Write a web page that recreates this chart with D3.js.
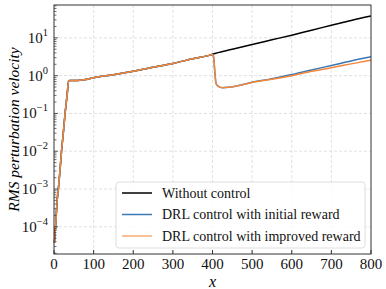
<!DOCTYPE html>
<html>
<head>
<meta charset="utf-8">
<script src="https://cdn.jsdelivr.net/npm/d3@7"></script>
<style>
  text, tspan { font-family: "Liberation Serif" !important; }
</style>
</head>
<body style="margin:0">
<script>
// shared growth before control starts (x <= 400)
const xEarly = [1, 4, 8, 11, 15, 19, 24, 28, 33, 37, 40, 60, 80, 100, 150, 200, 250, 300, 350, 395, 400];
const vEarly = [3.8e-5, 1e-4, 5e-4, 1e-3, 3e-3, 1e-2, 3.5e-2, 0.1, 0.3, 0.72, 0.74, 0.75, 0.79, 0.88, 1.06, 1.31, 1.66, 2.1, 2.8, 3.55, 3.7];

// without control after x = 400
const xNoCtrl = [450, 500, 550, 600, 650, 700, 750, 800];
const vNoCtrl = [5.0, 6.7, 8.9, 11.8, 16, 21.5, 29, 38];

// DRL controlled after x = 400
const xCtrl = [403, 406, 409, 415, 425, 440, 460, 500, 550, 600, 650, 700, 750, 800];
const vInitial = [3.0, 1.2, 0.62, 0.52, 0.48, 0.49, 0.53, 0.67, 0.83, 1.07, 1.42, 1.86, 2.45, 3.15];
const vImproved = [3.0, 1.2, 0.62, 0.52, 0.48, 0.49, 0.53, 0.66, 0.8, 1.0, 1.3, 1.62, 2.05, 2.57];

const xTicks = [0, 100, 200, 300, 400, 500, 600, 700, 800];
const yExps = [-4, -3, -2, -1, 0, 1];
const legendLabels = ["Without control", "DRL control with initial reward", "DRL control with improved reward"];
const colors = ["#000000", "#3b78b3", "#f4863a"];

const W = 386, H = 289;
const m = { left: 54, right: 15, top: 5, bottom: 35 };

const svg = d3.select("body").append("svg")
    .attr("width", W)
    .attr("height", H)
    .attr("font-family", "Liberation Serif");

const x = d3.scaleLinear().domain([0, 800]).range([m.left, W - m.right]);
const y = d3.scaleLog().domain([Math.pow(10, -4.72), Math.pow(10, 1.87)]).range([H - m.bottom, m.top]);

const pts = (xs, vs) => xs.map((d, i) => [d, vs[i]]);
const early = pts(xEarly, vEarly);
const series = [
    early.concat(pts(xNoCtrl, vNoCtrl)),
    early.concat(pts(xCtrl, vInitial)),
    early.concat(pts(xCtrl, vImproved))
];

// grid
const grid = svg.append("g");
grid.selectAll(".gx").data(xTicks.slice(1, -1)).enter().append("line")
    .attr("x1", d => x(d)).attr("x2", d => x(d))
    .attr("y1", m.top).attr("y2", H - m.bottom)
    .attr("stroke", "#d9d9d9").attr("stroke-width", 0.8).attr("stroke-dasharray", "3,2");
grid.selectAll(".gy").data(yExps).enter().append("line")
    .attr("x1", m.left).attr("x2", W - m.right)
    .attr("y1", d => y(Math.pow(10, d))).attr("y2", d => y(Math.pow(10, d)))
    .attr("stroke", "#d9d9d9").attr("stroke-width", 0.8).attr("stroke-dasharray", "3,2");

// lines
const line = d3.line().x(d => x(d[0])).y(d => y(d[1])).curve(d3.curveMonotoneX);
svg.append("g").selectAll("path")
    .data(series)
    .enter().append("path")
    .attr("d", line)
    .attr("fill", "none")
    .attr("stroke", (d, i) => colors[i])
    .attr("stroke-width", 1.5);

// x ticks and labels, ticks pointing inside
svg.append("g").selectAll("line").data(xTicks).enter().append("line")
    .attr("x1", d => x(d)).attr("x2", d => x(d))
    .attr("y1", H - m.bottom).attr("y2", H - m.bottom - 4)
    .attr("stroke", "#333");
svg.selectAll(".xlab").data(xTicks).enter().append("text")
    .attr("class", "xlab")
    .attr("x", d => x(d)).attr("y", H - m.bottom + 15)
    .attr("text-anchor", "middle")
    .attr("font-size", 15)
    .attr("font-family", "Liberation Serif")
    .attr("fill", "#111")
    .text(d => d);

const minor = [];
for (let e = -5; e <= 1; e++) {
    for (let k = 2; k <= 9; k++) {
        const v = k * Math.pow(10, e);
        if (v > y.domain()[0] && v < y.domain()[1]) minor.push(v);
    }
}
const gy = svg.append("g");
gy.selectAll(".minor").data(minor).enter().append("line")
    .attr("x1", m.left).attr("x2", m.left + 2.5)
    .attr("y1", d => y(d)).attr("y2", d => y(d))
    .attr("stroke", "#333").attr("stroke-width", 0.7);
gy.selectAll(".major").data(yExps).enter().append("line")
    .attr("x1", m.left).attr("x2", m.left + 4)
    .attr("y1", d => y(Math.pow(10, d))).attr("y2", d => y(Math.pow(10, d)))
    .attr("stroke", "#333").attr("stroke-width", 0.8);
const yl = svg.selectAll(".ylab").data(yExps).enter().append("text")
    .attr("class", "ylab")
    .attr("x", m.left - 6)
    .attr("y", d => y(Math.pow(10, d)) + 5)
    .attr("text-anchor", "end")
    .attr("font-size", 15)
    .attr("font-family", "Liberation Serif")
    .attr("fill", "#111");
yl.append("tspan").text("10");
yl.append("tspan").attr("dy", -7).attr("font-size", 10.5)
    .text(d => d < 0 ? "\u2212" + Math.abs(d) : String(d));

// frame
svg.append("rect")
    .attr("x", m.left).attr("y", m.top)
    .attr("width", W - m.left - m.right).attr("height", H - m.top - m.bottom)
    .attr("fill", "none").attr("stroke", "#333").attr("stroke-width", 1);

// axis titles
svg.append("text")
    .attr("x", x(400)).attr("y", H - 2)
    .attr("text-anchor", "middle")
    .attr("font-size", 16).attr("font-style", "italic")
    .attr("font-family", "Liberation Serif")
    .text("x");
svg.append("text")
    .attr("transform", `translate(19,${(m.top + H - m.bottom) / 2}) rotate(-90)`)
    .attr("text-anchor", "middle")
    .attr("font-size", 15.5).attr("font-style", "italic")
    .attr("font-family", "Liberation Serif")
    .text("RMS perturbation velocity");

// legend
svg.append("rect")
    .attr("x", 116).attr("y", 182).attr("width", 249).attr("height", 66)
    .attr("rx", 3)
    .attr("fill", "#fff").attr("fill-opacity", 0.85)
    .attr("stroke", "#d6d6d6").attr("stroke-width", 0.8);
svg.selectAll(".lgline").data(legendLabels).enter().append("line")
    .attr("x1", 122).attr("x2", 152)
    .attr("y1", (d, i) => 193 + i * 21.5).attr("y2", (d, i) => 193 + i * 21.5)
    .attr("stroke", (d, i) => colors[i]).attr("stroke-width", 1.5)
    .attr("stroke-opacity", (d, i) => i === 2 ? 0.7 : 1);
svg.selectAll(".lgtext").data(legendLabels).enter().append("text")
    .attr("x", 162).attr("y", (d, i) => 197.5 + i * 21.5)
    .attr("font-size", 14)
    .attr("font-family", "Liberation Serif")
    .attr("fill", "#111")
    .text(d => d);
</script>
</body>
</html>
